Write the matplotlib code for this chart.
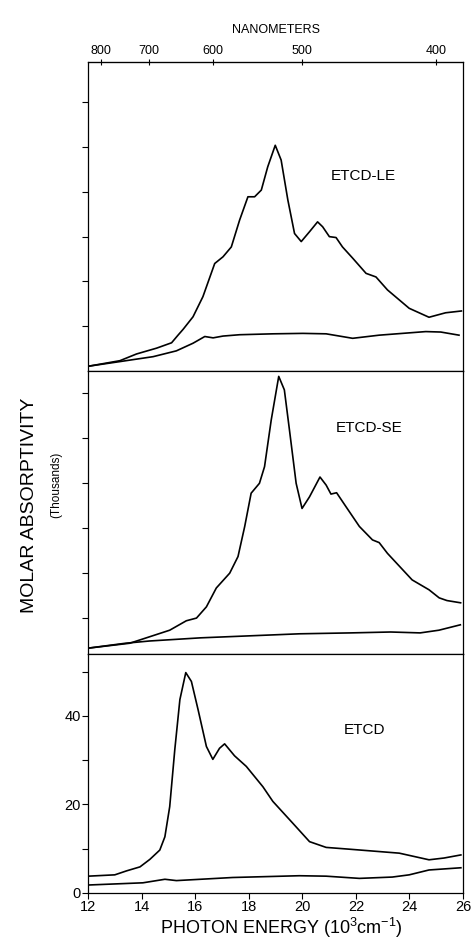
import matplotlib.pyplot as plt

plt.rcParams['font.family'] = ['Liberation Sans', 'DejaVu Sans']
plt.rcParams['mathtext.fontset'] = 'custom'
plt.rcParams['mathtext.rm'] = 'Liberation Sans'

# Photon energy in 10^3 cm^-1, molar absorptivity in thousands

# ETCD-LE (top panel)
le_x = [12.05, 13.19, 13.81, 14.56, 15.12, 15.36, 15.55, 15.92, 16.29, 16.73,
        17.04, 17.35, 17.66, 17.97, 18.22, 18.47, 18.71, 18.99, 19.21, 19.46,
        19.71, 19.96, 20.27, 20.57, 20.76, 21.01, 21.26, 21.50, 21.88, 22.38,
        22.75, 23.18, 23.99, 24.73, 25.35, 25.94]
le_y = [1.1, 2.3, 3.8, 5.1, 6.3, 8.0, 9.3, 12.1, 16.6, 24.0,
        25.5, 27.7, 33.7, 38.9, 38.9, 40.4, 45.6, 50.4, 47.1, 38.2,
        30.7, 28.9, 31.1, 33.3, 32.2, 30.0, 29.8, 27.7, 25.2, 21.8,
        21.0, 18.1, 14.0, 12.0, 13.0, 13.4]
le_base_x = [12.05, 13.19, 14.43, 15.30, 15.92, 16.36, 16.67, 17.04, 17.66, 18.90,
             20.02, 20.89, 21.88, 22.87, 24.61, 25.17, 25.85]
le_base_y = [1.1, 2.1, 3.2, 4.5, 6.2, 7.7, 7.4, 7.8, 8.1, 8.3,
             8.4, 8.3, 7.3, 8.0, 8.8, 8.7, 8.0]

# ETCD-SE (middle panel)
se_x = [12.0, 13.56, 15.05, 15.67, 16.05, 16.42, 16.79, 17.29, 17.60, 17.85,
        18.09, 18.40, 18.59, 18.84, 19.12, 19.33, 19.52, 19.77, 19.99, 20.27,
        20.66, 20.89, 21.07, 21.28, 21.63, 22.13, 22.62, 22.87, 23.18, 24.10,
        24.73, 25.11, 25.40, 25.91]
se_y = [1.3, 2.4, 5.3, 7.4, 8.0, 10.5, 14.7, 18.0, 21.7, 28.4,
        35.8, 38.0, 41.7, 52.1, 61.8, 58.8, 49.9, 38.0, 32.4, 35.0,
        39.4, 37.6, 35.6, 35.9, 32.8, 28.4, 25.4, 24.8, 22.4, 16.5,
        14.3, 12.5, 11.9, 11.4]
se_base_x = [12.0, 13.4, 14.3, 16.2, 19.9, 21.8, 23.3, 24.4, 25.1, 25.9]
se_base_y = [1.3, 2.4, 2.9, 3.6, 4.5, 4.7, 4.9, 4.7, 5.3, 6.5]

# ETCD (bottom panel)
etcd_x = [12.0, 13.0, 13.44, 13.94, 14.31, 14.68, 14.87, 15.05, 15.24, 15.43,
          15.65, 15.86, 16.11, 16.42, 16.66, 16.91, 17.10, 17.47, 17.91, 18.53,
          18.90, 19.64, 20.27, 20.89, 21.75, 23.62, 24.73, 25.29, 25.92]
etcd_y = [3.8, 4.1, 5.0, 5.9, 7.6, 9.7, 12.7, 19.5, 32.4, 43.7,
          49.8, 47.8, 41.4, 33.1, 30.2, 32.7, 33.7, 31.0, 28.6, 24.0,
          20.7, 15.8, 11.6, 10.3, 9.9, 9.0, 7.5, 7.9, 8.6]
etcd_base_x = [12.0, 14.05, 14.87, 15.30, 17.40, 19.89, 20.89, 22.13, 23.36, 23.99,
               24.73, 25.92]
etcd_base_y = [1.8, 2.3, 3.1, 2.8, 3.5, 3.9, 3.8, 3.3, 3.6, 4.1,
               5.2, 5.7]

panel_labels = ['ETCD-LE', 'ETCD-SE', 'ETCD']
nm_ticks = [800, 700, 600, 500, 400]
energy_ticks = [12, 14, 16, 18, 20, 22, 24, 26]


def style_panel(ax, ylim, yticks):
    """
    Common look for the three stacked panels
    """
    ax.set_xlim(12, 26)
    ax.set_ylim(*ylim)
    ax.set_yticks(yticks)
    ax.tick_params(axis='y', direction='out', length=4, width=0.8)
    ax.tick_params(axis='x', direction='out', length=4, width=0.8)
    for spine in ax.spines.values():
        spine.set_linewidth(0.9)


def plot_spectra():
    fig = plt.figure(figsize=(4.77, 9.39), dpi=100)

    ax_top = fig.add_axes([0.1845, 0.6049, 0.7862, 0.3291])
    ax_mid = fig.add_axes([0.1845, 0.3035, 0.7862, 0.3014])
    ax_bot = fig.add_axes([0.1845, 0.0490, 0.7862, 0.2545])

    # Top panel
    ax_top.plot(le_x, le_y, color='black', lw=1.2)
    ax_top.plot(le_base_x, le_base_y, color='black', lw=1.2)
    style_panel(ax_top, (0, 69), range(10, 70, 10))
    ax_top.set_xticks([])
    ax_top.set_yticklabels([])
    ax_top.text(0.648, 0.63, panel_labels[0], transform=ax_top.transAxes,
                fontsize=11, va='center')

    # Wavelength axis on top
    nm = ax_top.secondary_xaxis('top', functions=(lambda x: 1e4 / x, lambda x: 1e4 / x))
    nm.set_xticks(nm_ticks)
    nm.tick_params(direction='inout', length=5, width=0.8, labelsize=9, pad=1)
    nm.set_xlabel('NANOMETERS', fontsize=9, labelpad=9)

    # Middle panel
    ax_mid.plot(se_x, se_y, color='black', lw=1.2)
    ax_mid.plot(se_base_x, se_base_y, color='black', lw=1.2)
    style_panel(ax_mid, (0, 63), range(8, 63, 10))
    ax_mid.set_xticks([])
    ax_mid.set_yticklabels([])
    ax_mid.text(0.660, 0.80, panel_labels[1], transform=ax_mid.transAxes,
                fontsize=11, va='center')

    # Bottom panel
    ax_bot.plot(etcd_x, etcd_y, color='black', lw=1.2)
    ax_bot.plot(etcd_base_x, etcd_base_y, color='black', lw=1.2)
    style_panel(ax_bot, (0, 54), range(0, 60, 10))
    ax_bot.set_yticklabels(['0', '', '20', '', '40', ''])
    ax_bot.set_xticks(energy_ticks)
    ax_bot.tick_params(labelsize=10.5, pad=1)
    ax_bot.text(0.683, 0.68, panel_labels[2], transform=ax_bot.transAxes,
                fontsize=11, va='center')

    fig.text(0.589, 1 - 928 / 939, 'PHOTON ENERGY (10$^\\mathregular{3}$cm$^\\mathregular{-1}$)',
             ha='center', va='center', fontsize=13)
    fig.text(30 / 477, 1 - 505 / 939, 'MOLAR ABSORPTIVITY', rotation=90,
             ha='center', va='center', fontsize=14)
    fig.text(56 / 477, 1 - 485 / 939, '(Thousands)', rotation=90,
             ha='center', va='center', fontsize=8.5)

    fig.savefig('out.png', dpi=100)


if __name__ == '__main__':
    plot_spectra()
